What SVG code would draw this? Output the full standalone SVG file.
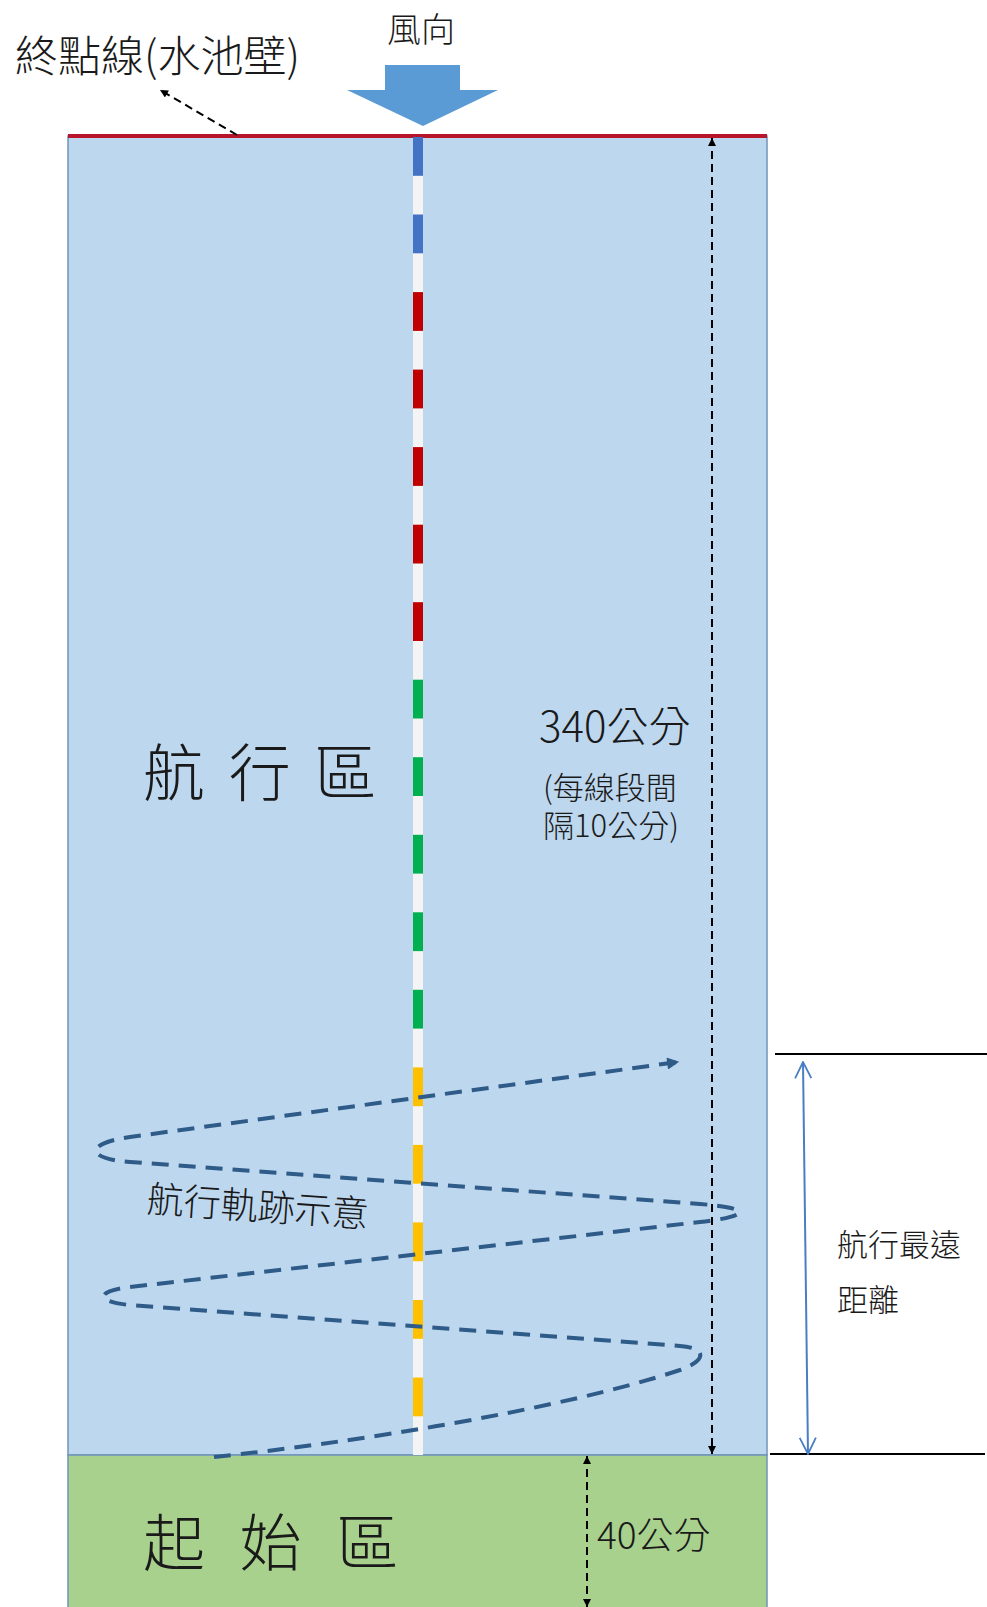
<svg xmlns="http://www.w3.org/2000/svg" width="987" height="1607" viewBox="0 0 987 1607">
<style>
text{font-family:"Noto Sans CJK TC","Noto Sans",sans-serif;fill:#1a1a1a;font-weight:300}
.seg-b{fill:#4472C4}.seg-r{fill:#C00000}.seg-g{fill:#00B050}.seg-y{fill:#FFC000}
.dim{stroke:#000;stroke-width:2;stroke-dasharray:8 5;fill:none}
.track{stroke:#2E5B88;stroke-width:4;stroke-dasharray:17 10;fill:none}
</style>
<defs>
<marker id="ah" viewBox="0 0 10 10" refX="10" refY="5" markerWidth="9" markerHeight="8" markerUnits="userSpaceOnUse" orient="auto-start-reverse"><path d="M0,0 L10,5 L0,10 Z" fill="#000"/></marker>
<marker id="trk" viewBox="0 0 10 10" refX="9" refY="5" markerWidth="16" markerHeight="12" markerUnits="userSpaceOnUse" orient="auto"><path d="M0,0 L10,5 L0,10 Z" fill="#2E5B88"/></marker>
<marker id="open" viewBox="0 0 20 20" refX="19" refY="10" markerWidth="18" markerHeight="20" markerUnits="userSpaceOnUse" orient="auto-start-reverse"><path d="M1,1 L19,10 L1,19" fill="none" stroke="#4A7EC4" stroke-width="2"/></marker>
</defs>
<rect width="987" height="1607" fill="#fff"/>
<g id="sail-zone">
<rect x="68" y="136" width="699" height="1319" fill="#BDD7EE" stroke="#7094BC" stroke-width="1.5"/>
<text x="143" y="796" font-size="62" letter-spacing="5" xml:space="preserve">航 行 區</text>
</g>
<g id="start-zone">
<rect x="68" y="1455" width="699" height="160" fill="#A9D18E" stroke="#7094BC" stroke-width="1.5"/>
<text x="143" y="1566" font-size="62" letter-spacing="10.5" xml:space="preserve">起 始 區</text>
</g>
<g id="finish-line">
<line x1="68" y1="136" x2="767" y2="136" stroke="#B8142A" stroke-width="4"/>
<text x="15" y="72" font-size="43">終點線(水池壁)</text>
</g>
<g id="wind">
<polygon points="385,65 460,65 460,90 498,90 423,126 347,90 385,90" fill="#5B9BD5"/>
<text x="421" y="42" font-size="34" text-anchor="middle">風向</text>
</g>
<g id="ruler">
<rect x="413" y="137" width="10" height="1318" fill="#F4F4F4"/>
<rect class="seg-b" x="413" y="137.0" width="10" height="38.8"/>
<rect class="seg-b" x="413" y="214.5" width="10" height="38.8"/>
<rect class="seg-r" x="413" y="292.1" width="10" height="38.8"/>
<rect class="seg-r" x="413" y="369.6" width="10" height="38.8"/>
<rect class="seg-r" x="413" y="447.1" width="10" height="38.8"/>
<rect class="seg-r" x="413" y="524.7" width="10" height="38.8"/>
<rect class="seg-r" x="413" y="602.2" width="10" height="38.8"/>
<rect class="seg-g" x="413" y="679.7" width="10" height="38.8"/>
<rect class="seg-g" x="413" y="757.2" width="10" height="38.8"/>
<rect class="seg-g" x="413" y="834.8" width="10" height="38.8"/>
<rect class="seg-g" x="413" y="912.3" width="10" height="38.8"/>
<rect class="seg-g" x="413" y="989.8" width="10" height="38.8"/>
<rect class="seg-y" x="413" y="1067.4" width="10" height="38.8"/>
<rect class="seg-y" x="413" y="1144.9" width="10" height="38.8"/>
<rect class="seg-y" x="413" y="1222.4" width="10" height="38.8"/>
<rect class="seg-y" x="413" y="1300.0" width="10" height="38.8"/>
<rect class="seg-y" x="413" y="1377.5" width="10" height="38.8"/>
</g>
<g id="dim-340">
<text x="539" y="742" font-size="42">340公分</text>
<text x="543" y="799" font-size="31">(每線段間</text>
<text x="543" y="837" font-size="31">隔10公分)</text>
</g>
<g id="dim-40">
<text x="597" y="1549" font-size="37">40公分</text>
</g>
<g id="track-label">
<text x="147" y="1212" font-size="37" transform="rotate(4 147 1200)">航行軌跡示意</text>
</g>
<g id="max-distance">
<line x1="775" y1="1054" x2="987" y2="1054" stroke="#000" stroke-width="2"/>
<line x1="770" y1="1454" x2="985" y2="1454" stroke="#000" stroke-width="2"/>
<text x="837" y="1256" font-size="31">航行最遠</text>
<text x="837" y="1311" font-size="31">距離</text>
</g>
<g id="connectors">
<line class="dim" x1="237" y1="135" x2="160" y2="90" marker-end="url(#ah)"/>
<line class="dim" x1="712" y1="138" x2="712" y2="1454" marker-start="url(#ah)" marker-end="url(#ah)"/>
<line class="dim" x1="587" y1="1456" x2="587" y2="1607" marker-start="url(#ah)" marker-end="url(#ah)"/>
<line x1="803" y1="1062" x2="808" y2="1454" stroke="#4A7EC4" stroke-width="2" marker-start="url(#open)" marker-end="url(#open)"/>
<path class="track" marker-end="url(#trk)" d="M214,1457 C350,1443 560,1410 680,1370 C706,1361 708,1348 680,1346 L130,1305 C95,1302 95,1291 130,1287 L700,1222 C752,1216 752,1208 700,1204 L130,1162 C85,1159 85,1143 130,1137 L678,1062"/>
</g>
</svg>
